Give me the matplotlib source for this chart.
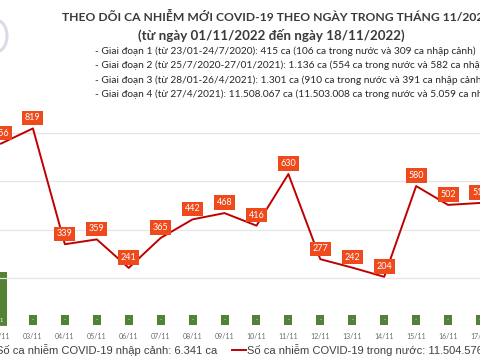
import matplotlib
matplotlib.use('Agg')
import matplotlib.pyplot as plt
from matplotlib.patches import Ellipse

plt.rcParams['font.family'] = ['Lato', 'DejaVu Sans']

# du lieu doc tu hinh (02/11 -> 17/11)
ngay = ['02/11', '03/11', '04/11', '05/11', '06/11', '07/11', '08/11', '09/11',
        '10/11', '11/11', '12/11', '13/11', '14/11', '15/11', '16/11', '17/11']
trong_nuoc = [756, 819, 339, 359, 241, 365, 442, 468, 416, 630, 277, 242, 204, 580, 502, 510]
nhap_canh = [1, 0, 0, 0, 0, 0, 0, 0, 0, 0, 0, 0, 0, 0, 0, 0]

tieu_de = 'THEO DÕI CA NHIỄM MỚI COVID-19 THEO NGÀY TRONG THÁNG 11/2022'
phu_de = '(từ ngày 01/11/2022 đến ngày 18/11/2022)'
giai_doan = [
    '- Giai đoạn 1 (từ 23/01-24/7/2020): 415 ca (106 ca trong nước và 309 ca nhập cảnh)',
    '- Giai đoạn 2 (từ 25/7/2020-27/01/2021): 1.136 ca (554 ca trong nước và 582 ca nhập cảnh)',
    '- Giai đoạn 3 (từ 28/01-26/4/2021): 1.301 ca (910 ca trong nước và 391 ca nhập cảnh)',
    '- Giai đoạn 4 (từ 27/4/2021): 11.508.067 ca (11.503.008 ca trong nước và 5.059 ca nhập cảnh)',
]
chu_thich_nc = 'Số ca nhiễm COVID-19 nhập cảnh: 6.341 ca'
chu_thich_tn = 'Số ca nhiễm COVID-19 trong nước: 11.504.576 ca'

xanh = '#548235'
do = '#c00000'
cam = '#ee4a1c'

fig = plt.figure(figsize=(4.8, 3.6), dpi=100)
fig.patch.set_facecolor('white')

x = list(range(len(ngay)))
ax = fig.add_axes([0, 0.0944, 1, 0.6032])
ax2 = ax.twinx()
ax.set_zorder(ax2.get_zorder() + 1)
ax.patch.set_visible(False)

# cot nhap canh
ax2.bar(x, nhap_canh, width=0.38, color=xanh, zorder=2)
ax2.set_ylim(0, 4)
ax2.set_yticks([])
for i, v in zip(x, nhap_canh):
    ax2.text(i, 0.11, str(v) if v else '-', ha='center', va='center',
             fontsize=4.2, color='white',
             bbox=dict(boxstyle='square,pad=0.5', fc=xanh, ec='none'))

# duong trong nuoc
ax.plot(x, trong_nuoc, color=do, lw=1.4, zorder=3)
for i, v in zip(x, trong_nuoc):
    ax.annotate(str(v), (i, v), xytext=(0, 7.5), textcoords='offset points',
                ha='center', va='center', fontsize=6.5, color='white', zorder=4,
                bbox=dict(boxstyle='square,pad=0.3', fc=cam, ec='none'))

ax.set_xlim(-0.031, 14.969)
ax.set_ylim(0, 900)
ax.set_yticks([0, 200, 400, 600, 800])
ax.set_yticklabels([])
ax.tick_params(axis='y', length=0)
ax.grid(axis='y', color='#e6e6e6', lw=0.9)
ax.set_axisbelow(True)
ax.set_xticks(x)
ax.set_xticklabels(ngay, fontsize=5, color='#6a6a6a')
ax.tick_params(axis='x', length=0, pad=5)
for a in (ax, ax2):
    for s in a.spines.values():
        s.set_visible(False)

# tieu de
fig.text(62 / 480, 1 - 17 / 360, tieu_de, ha='left', va='center',
         fontsize=8.75, color='#3a3a3a', fontweight='bold')
fig.text(271 / 480, 1 - 35 / 360, phu_de, ha='center', va='center',
         fontsize=9.6, color='#3a3a3a', fontweight='bold')
for k, dong in enumerate(giai_doan):
    fig.text(95 / 480, 1 - (51 + 14.5 * k) / 360, dong, ha='left', va='center',
             fontsize=7.3, color='#262626')

# logo
fig.patches.append(Ellipse((-4 / 480, 1 - 36 / 360), 22 / 480, 32 / 360,
                           transform=fig.transFigure, fc='none', ec='#dcdaea', lw=2.2))

# chu thich
fig.text(-4 / 480, 1 - 350 / 360, chu_thich_nc, ha='left', va='center',
         fontsize=8, color='#404040', family=['Liberation Sans', 'DejaVu Sans'])
fig.add_artist(plt.Line2D([232 / 480, 246 / 480], [1 - 350 / 360] * 2,
                          transform=fig.transFigure, color=do, lw=1.4))
fig.text(247 / 480, 1 - 350 / 360, chu_thich_tn, ha='left', va='center',
         fontsize=8, color='#404040', family=['Liberation Sans', 'DejaVu Sans'])

fig.savefig('out.png', dpi=100)
